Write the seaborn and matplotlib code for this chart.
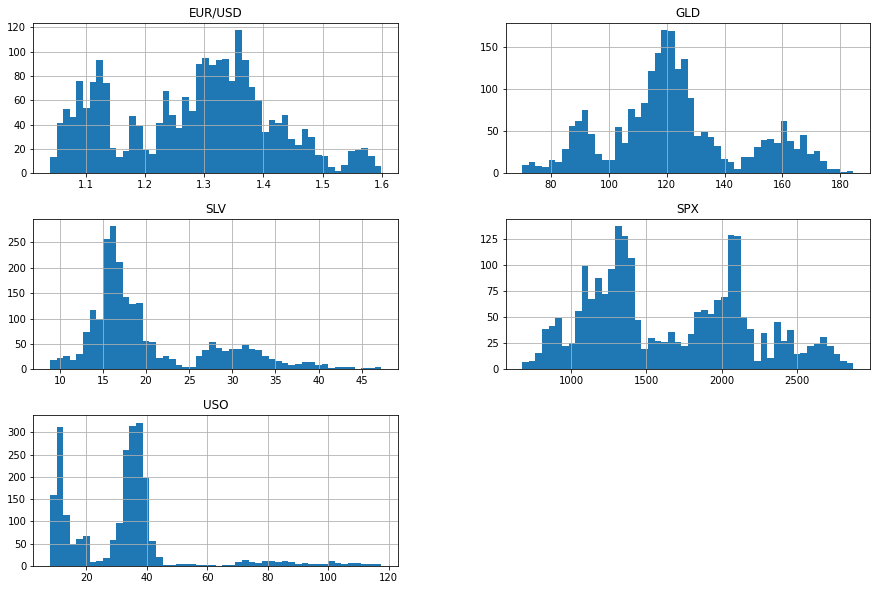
import numpy as np
import pandas as pd
import matplotlib
matplotlib.use("Agg")
import matplotlib.pyplot as plt
import seaborn as sns

# bin counts (50 bins per column)
eurusd_range = (1.039, 1.599)
eurusd_counts = [13, 41, 53, 46, 76, 54, 75, 93, 74, 21,
                 13, 18, 47, 39, 19, 16, 41, 68, 48, 37,
                 63, 51, 90, 95, 89, 93, 94, 76, 118, 93,
                 71, 60, 34, 44, 41, 48, 28, 23, 36, 30,
                 15, 14, 5, 2, 7, 18, 19, 21, 14, 6]

gld_range = (70.0, 184.59)
gld_counts = [10, 13, 9, 7, 16, 13, 29, 56, 62, 75,
              47, 23, 16, 16, 55, 36, 76, 67, 84, 122,
              143, 171, 170, 124, 136, 90, 44, 49, 43, 32,
              17, 13, 5, 19, 19, 31, 40, 41, 36, 62,
              38, 29, 45, 23, 27, 14, 5, 5, 1, 2]

slv_range = (8.85, 47.26)
slv_counts = [19, 23, 27, 19, 31, 74, 118, 99, 257, 282,
              211, 143, 129, 131, 57, 55, 23, 27, 21, 9,
              5, 5, 27, 38, 54, 42, 37, 41, 41, 49,
              41, 39, 27, 20, 16, 12, 8, 10, 14, 14,
              8, 10, 2, 4, 4, 4, 0, 2, 2, 4]

spx_range = (676.53, 2872.87)
spx_counts = [7, 8, 16, 39, 42, 49, 22, 25, 56, 99,
              67, 87, 72, 96, 137, 128, 107, 47, 20, 30,
              27, 26, 36, 26, 22, 34, 55, 57, 53, 66,
              69, 129, 128, 50, 39, 8, 35, 11, 45, 27,
              38, 15, 16, 22, 24, 31, 22, 15, 8, 6]

uso_range = (7.96, 117.48)
uso_counts = [159, 312, 114, 50, 60, 67, 9, 11, 18, 58,
              96, 260, 314, 322, 197, 56, 20, 2, 2, 4,
              4, 4, 2, 2, 2, 0, 2, 2, 9, 13,
              9, 7, 11, 11, 9, 11, 9, 4, 7, 4,
              4, 4, 11, 7, 4, 7, 7, 4, 4, 4]

columns = ["EUR/USD", "GLD", "SLV", "SPX", "USO"]
ranges = [eurusd_range, gld_range, slv_range, spx_range, uso_range]
counts = [eurusd_counts, gld_counts, slv_counts, spx_counts, uso_counts]

fig, axes = plt.subplots(3, 2, figsize=(877 / 72, 590 / 72), dpi=72)
fig.subplots_adjust(left=0.038, right=0.992, top=0.9615, bottom=0.041,
                    wspace=0.296, hspace=0.305)

for ax, name, rng, cnt in zip(axes.flat, columns, ranges, counts):
    # one point per bin centre, weighted by its count
    width = (rng[1] - rng[0]) / len(cnt)
    df = pd.DataFrame({"value": rng[0] + width * (np.arange(len(cnt)) + 0.5),
                       "count": cnt})
    sns.histplot(data=df, x="value", weights="count", bins=len(cnt),
                 binrange=rng, ax=ax, color="#1f77b4", alpha=1,
                 linewidth=0)
    ax.set_title(name, fontsize=12)
    ax.set_xlabel("")
    ax.set_ylabel("")
    ax.grid(True)

axes[2, 1].set_visible(False)

fig.savefig("out.png", dpi=72)
